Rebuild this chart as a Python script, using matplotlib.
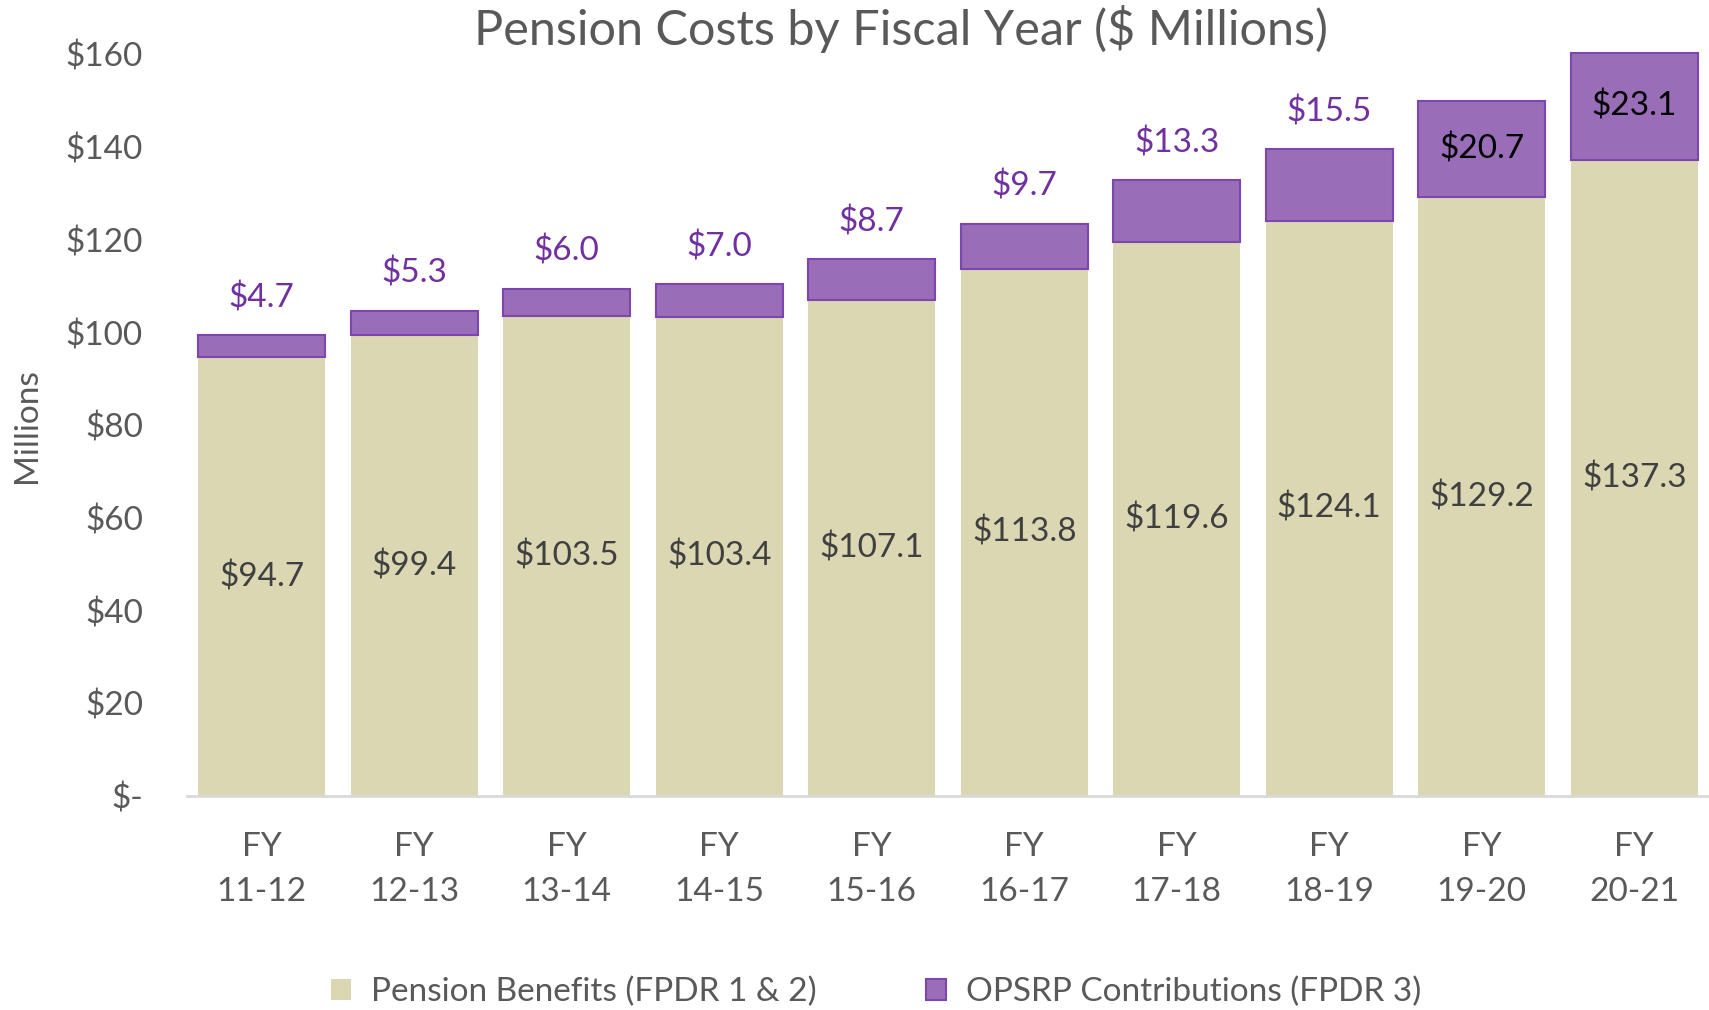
import matplotlib
matplotlib.use("Agg")
import matplotlib.pyplot as plt
import numpy as np

categories = ["FY\n11-12", "FY\n12-13", "FY\n13-14", "FY\n14-15", "FY\n15-16",
              "FY\n16-17", "FY\n17-18", "FY\n18-19", "FY\n19-20", "FY\n20-21"]
pension_benefits = [94.7, 99.4, 103.5, 103.4, 107.1, 113.8, 119.6, 124.1, 129.2, 137.3]
opsrp_contrib = [4.7, 5.3, 6.0, 7.0, 8.7, 9.7, 13.3, 15.5, 20.7, 23.1]
y_ticks = [0, 20, 40, 60, 80, 100, 120, 140, 160]
y_tick_labels = ["$-", "$20", "$40", "$60", "$80", "$100", "$120", "$140", "$160"]

plt.rcParams['font.family'] = ['Lato', 'DejaVu Sans']
gray = "#595959"
beige = "#DAD7B2"
purple = "#9A6DB8"
purple_edge = "#7E45AE"
purple_text = "#7030A0"

W, H = 1709, 1010
fig = plt.figure(figsize=(W / 100, H / 100), dpi=100)
ax = fig.add_axes([187 / W, 1 - 796 / H, (W - 187) / W, (796 - 54.5) / H])

x = np.arange(len(categories))
width = 0.83
b1 = ax.bar(x, pension_benefits, width, color=beige, label="Pension Benefits (FPDR 1 & 2)",
            clip_on=False, zorder=2)
b2 = ax.bar(x, opsrp_contrib, width, bottom=pension_benefits, color=purple,
            edgecolor=purple_edge, linewidth=1.5, label="OPSRP Contributions (FPDR 3)",
            clip_on=False, zorder=2)

fs = 24
for i, (p, o) in enumerate(zip(pension_benefits, opsrp_contrib)):
    ax.text(i, p / 2, f"${p:.1f}", ha="center", va="center", fontsize=fs, color="#404040")
    if i >= 8:
        ax.text(i, p + o / 2, f"${o:.1f}", ha="center", va="center", fontsize=fs, color="black")
    else:
        ax.annotate(f"${o:.1f}", (i, p + o), xytext=(0, 27), textcoords="offset points",
                    ha="center", va="center", fontsize=fs, color=purple_text)

ax.set_xlim(-0.49, 9.49)
ax.set_ylim(0, 160)
ax.set_yticks(y_ticks)
ax.set_yticklabels(y_tick_labels)
ax.set_xticks(x)
ax.set_xticklabels(categories, linespacing=1.63)
ax.tick_params(axis="both", length=0, labelsize=fs, labelcolor=gray)
ax.tick_params(axis="x", pad=26)
ax.tick_params(axis="y", pad=31.7)
for lab in ax.get_yticklabels():
    lab.set_horizontalalignment("right")

for s in ["top", "right", "left"]:
    ax.spines[s].set_visible(False)
ax.spines["bottom"].set_color("#D9D9D9")
ax.spines["bottom"].set_linewidth(2)

ax.set_ylabel("Millions", fontsize=fs, color=gray)
ax.yaxis.set_label_coords(-(187 - 42) / (W - 187), 0.5)

fig.text(0.5 * (438 + 1215) * 1.09 / W, 1 - 29 / H, "Pension Costs by Fiscal Year ($ Millions)",
         ha="center", va="center", fontsize=35, color=gray)

leg = fig.legend(handles=[b1, b2], loc="center", bbox_to_anchor=(876 / W, 1 - 992 / H),
                 ncol=2, frameon=False, fontsize=fs, handlelength=0.6, handleheight=0.6,
                 columnspacing=3.27, handletextpad=0.6)
for t in leg.get_texts():
    t.set_color(gray)

fig.savefig("out.png", dpi=100)
